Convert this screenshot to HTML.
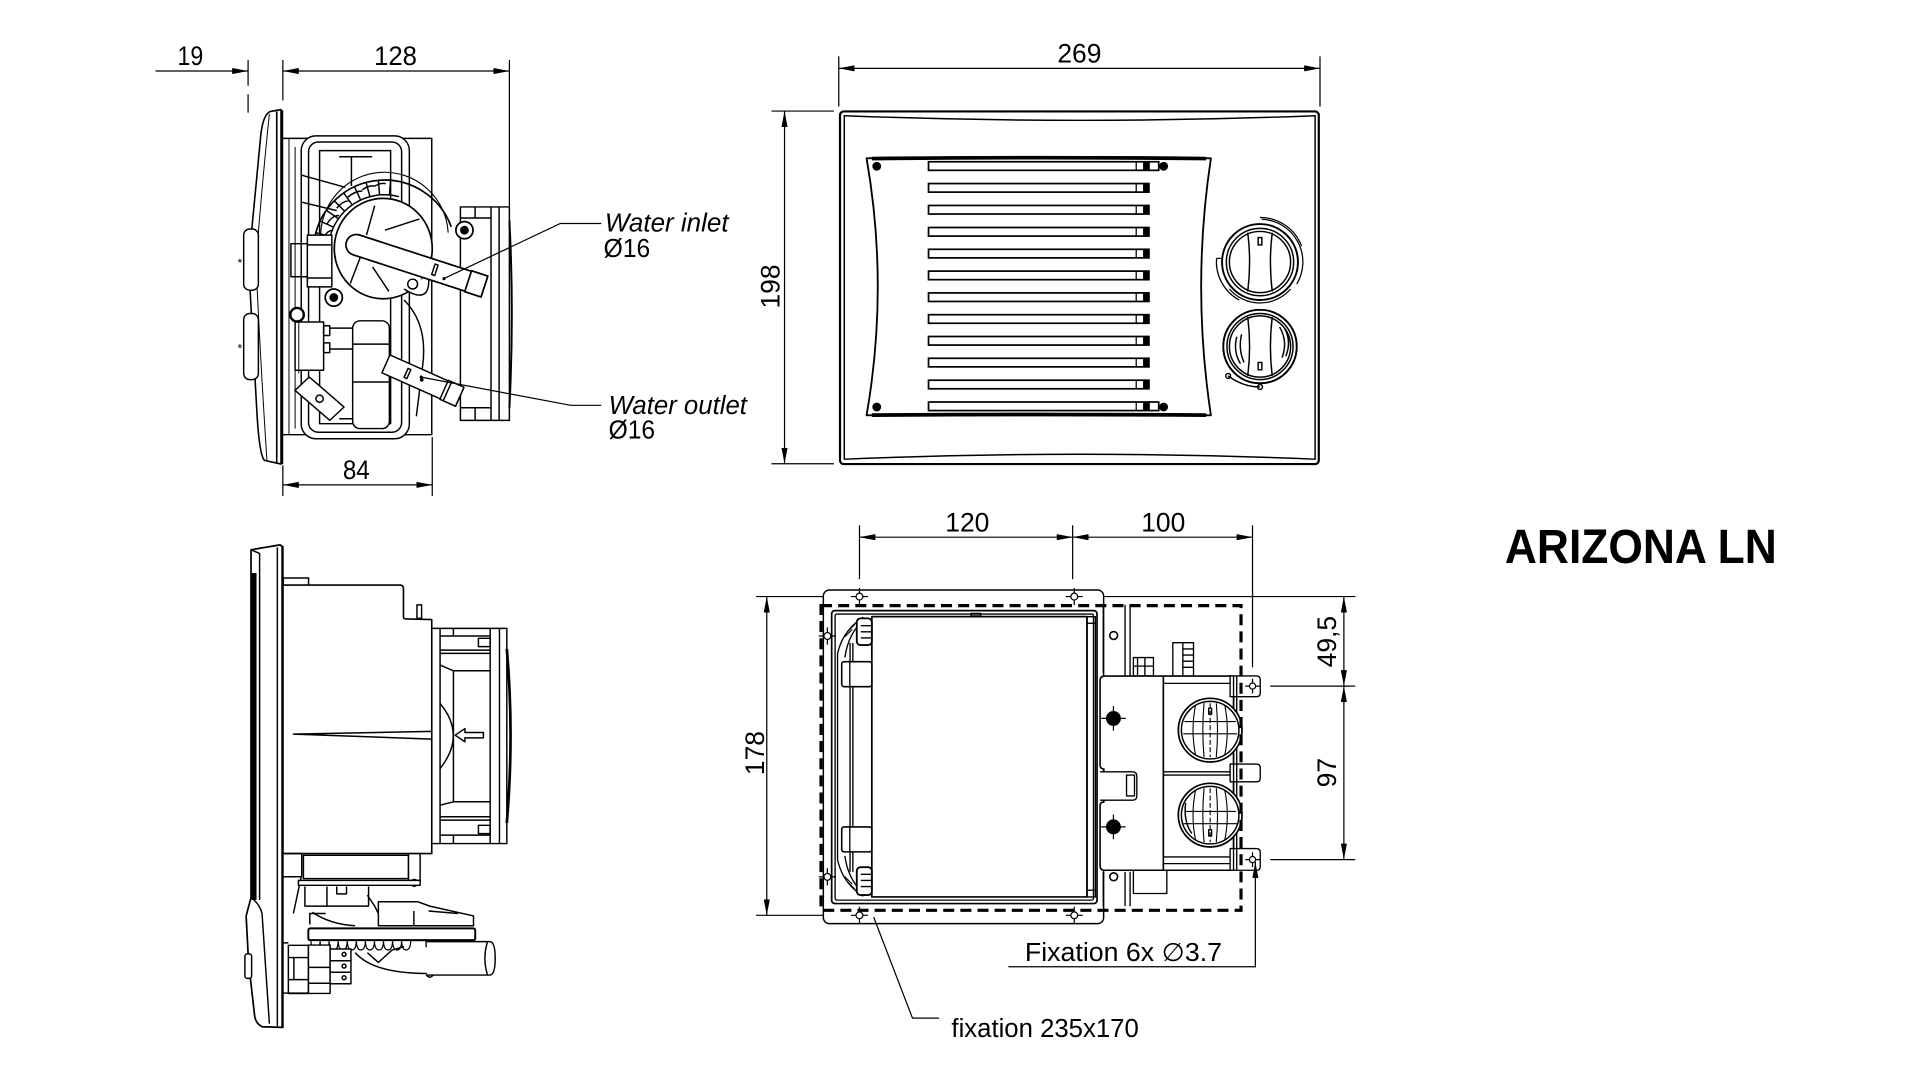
<!DOCTYPE html>
<html><head><meta charset="utf-8">
<style>
html,body{margin:0;padding:0;background:#fff;width:1920px;height:1080px;overflow:hidden}
svg{display:block}
text{font-family:"Liberation Sans",Arial,sans-serif;fill:#000;stroke:none}
</style></head><body>
<svg width="1920" height="1080" viewBox="0 0 1568 882" xmlns="http://www.w3.org/2000/svg">
<defs>
<marker id="ar" viewBox="0 0 13 5" refX="13" refY="2.5" markerWidth="13" markerHeight="5" markerUnits="userSpaceOnUse" orient="auto-start-reverse"><path d="M0,0 L13,2.5 L0,5 Z" fill="#000"/></marker>
</defs>
<rect x="0" y="0" width="1568" height="882" fill="#fff"/>

<!-- ================= A: top-left side view ================= -->
<g fill="none" stroke="#000" stroke-width="1">
<line x1="127" y1="58" x2="202.6" y2="58" marker-end="url(#ar)"/>
<line x1="231" y1="58" x2="416" y2="58" marker-start="url(#ar)" marker-end="url(#ar)"/>
<line x1="202.6" y1="49" x2="202.6" y2="70"/>
<line x1="202.6" y1="77" x2="202.6" y2="92"/>
<line x1="231" y1="49" x2="231" y2="82"/>
<line x1="416" y1="49" x2="416" y2="343"/>
<line x1="231" y1="396" x2="353" y2="396" marker-start="url(#ar)" marker-end="url(#ar)"/>
<line x1="231" y1="380" x2="231" y2="405"/>
<line x1="353" y1="357" x2="353" y2="405"/>
</g>
<text x="155.5" y="53" font-size="22" text-anchor="middle" textLength="21" lengthAdjust="spacingAndGlyphs">19</text>
<text x="323" y="53" font-size="22" text-anchor="middle" textLength="35" lengthAdjust="spacingAndGlyphs">128</text>
<text x="291" y="391" font-size="22" text-anchor="middle" textLength="22" lengthAdjust="spacingAndGlyphs">84</text>

<g fill="none" stroke="#000" stroke-width="1.2" stroke-linejoin="round">
<!-- back box -->
<path d="M231,113 L352.6,113 L352.6,355 L231,355" fill="#fff"/>
<line x1="236" y1="113" x2="236" y2="355" stroke-width="0.8"/>
<line x1="241" y1="120" x2="241" y2="350" stroke-width="0.8"/>
<!-- fan housing -->
<rect x="376" y="169" width="40" height="174.3" fill="#fff"/>
<line x1="401" y1="169" x2="401" y2="343"/>
<line x1="407.6" y1="169" x2="407.6" y2="343"/>
<path d="M376,178 L401,178 M376,333 L401,333 M388,169 L388,178 M388,333 L388,343"/>
<path d="M416,180 Q420,256 416,333" stroke-width="1.6"/>
<!-- rounded frame -->
<rect x="246" y="111" width="88.3" height="247.3" rx="12" fill="#fff"/>
<rect x="252" y="116" width="76" height="237" rx="8"/>
<rect x="261" y="123" width="58" height="223"/>
<path d="M277,128 L304,128 M287,128 L287,152 M277,342 L304,342"/>
<line x1="246" y1="143" x2="282" y2="153"/>
<line x1="246" y1="165" x2="275" y2="172"/>
<!-- lower vertical piece -->
<rect x="288" y="262" width="30" height="88" rx="6" fill="#fff"/>
<path d="M288,281 L318,281 M288,312 L318,312"/>
<path d="M330,245 Q350,265 345,300 L340,340" />
<!-- ribbed band -->
<path d="M256.9,194.9 A58,58 0 0 1 368.5,185.2" stroke-width="1.4"/>
<path d="M262,195.5 A52,52 0 0 1 366,190" stroke-width="0.9"/>
<path d="M268.7,197 A46,46 0 0 1 325.9,160.6"/>
<path d="M269.6,193.1 L258,190 M272.3,185.5 L261.4,180.5 M276.3,178.6 L266.5,171.7 M281.5,172.5 L273,164 M287.6,167.3 L280.7,157.5 M294.5,163.3 L289.5,152.5 M302.1,160.6 L299,149 M310,159.2 L309,147.2 M318,159.2 L319,147.2"/>
<path d="M264,195 Q267,188 272,188 M267,183 Q271,176 277,176 M275,170 Q280,164 285,164 M284,161 Q290,156 296,156 M296,155 Q301,151 306,152 M306,152 Q311,149 315,150"/>
<!-- motor disc -->
<ellipse cx="313" cy="203" rx="40" ry="41" fill="#fff" stroke-width="1.4"/>
<path d="M306,168 L299.3,192 M314.3,188 L342.6,178.8 M294.3,210 L286,231.6 M304.3,218 L317.6,238"/>
<path d="M330,236 Q352,250 350,225" fill="#fff"/>
<circle cx="337" cy="232" r="4"/>
<!-- connector left of disc -->
<rect x="237.6" y="199" width="16.7" height="27"/>
<rect x="251" y="192" width="20" height="42.3" fill="#fff"/>
<line x1="251" y1="200" x2="271" y2="200"/>
<line x1="251" y1="227" x2="271" y2="227"/>
<!-- lower connector -->
<rect x="241" y="263" width="23.3" height="39.4" fill="#fff"/>
<rect x="264.3" y="266" width="5" height="8"/>
<rect x="264.3" y="280" width="5" height="8"/>
<path d="M269.3,268 L288,268 M269.3,285 L288,285"/>
<line x1="244" y1="262" x2="244" y2="305" stroke-width="0.8"/>
<!-- tab -->
<path d="M240.9,318.8 L252.6,307.9 L281,332.4 L269.3,343.3 Z" fill="#fff"/>
<circle cx="261" cy="325.6" r="3"/>
<!-- small circles -->
<circle cx="379.3" cy="188" r="7" fill="#fff" stroke-width="1.4"/>
<circle cx="379.3" cy="188" r="3" fill="#000"/>
<circle cx="272.6" cy="243" r="7" fill="#fff" stroke-width="1.4"/>
<circle cx="272.6" cy="243" r="3" fill="#000"/>
<circle cx="242.6" cy="257" r="5.5" fill="#fff" stroke-width="2"/>
<!-- outlet pipe -->
<g transform="translate(317,298) rotate(24)">
<rect x="-2" y="-8" width="66" height="16" fill="#fff"/>
<rect x="50" y="-8.5" width="14" height="17" fill="#fff"/>
<line x1="53" y1="-8.5" x2="53" y2="8.5"/>
<rect x="16" y="-4" width="2.5" height="8" fill="#fff"/>
<circle cx="30" cy="0" r="0.9" fill="#000"/>
</g>
<!-- inlet pipe -->
<g transform="translate(291,200) rotate(18)">
<path d="M0,-8.5 L110,-8.5 L110,8.5 L0,8.5 A8.5,8.5 0 0 1 0,-8.5 Z" fill="#fff" stroke-width="1.4"/>
<rect x="96" y="-9" width="14" height="18" fill="#fff" stroke-width="1.4"/>
<rect x="66" y="-5" width="2.6" height="9" fill="#fff"/>
</g>
<!-- front panel -->
<path d="M229.5,89.5 L221,91 Q215,93 213,110 L203,215 L210,340 Q212,372 216,376 L229.5,379 Z" fill="#fff" stroke-width="1.3"/>
<line x1="226" y1="91" x2="226" y2="378" stroke-width="1.3"/>
<line x1="230.5" y1="90" x2="230.5" y2="379" stroke-width="1.6"/>
<path d="M220,93 Q214,150 209,215 Q213,300 218,376" stroke-width="0.8"/>
<rect x="199" y="187" width="12" height="50" rx="5" fill="#fff"/>
<rect x="199" y="256" width="12" height="54" rx="5" fill="#fff"/>
</g>
<text x="194" y="218" font-size="10" fill="#aaa">*</text>
<text x="194" y="288" font-size="10" fill="#aaa">*</text>

<!-- leaders A -->
<g fill="none" stroke="#000" stroke-width="1">
<polyline points="491,182.5 457.6,182.5 362.6,227.5"/>
<polyline points="491,331 466,331 344,308"/>
</g>
<circle cx="362.6" cy="227.5" r="1.3"/>
<circle cx="344" cy="308" r="1.3"/>
<text x="494" y="189" font-size="21" font-style="italic" textLength="101" lengthAdjust="spacingAndGlyphs">Water inlet</text>
<text x="493" y="210" font-size="21" textLength="38" lengthAdjust="spacingAndGlyphs">Ø16</text>
<text x="497" y="338" font-size="21" font-style="italic" textLength="113" lengthAdjust="spacingAndGlyphs">Water outlet</text>
<text x="497" y="358" font-size="21" textLength="38" lengthAdjust="spacingAndGlyphs">Ø16</text>

<!-- ================= B: front view ================= -->
<g fill="none" stroke="#000" stroke-width="1">
<line x1="685" y1="55.8" x2="1078" y2="55.8" marker-start="url(#ar)" marker-end="url(#ar)"/>
<line x1="685" y1="46" x2="685" y2="87"/>
<line x1="1078" y1="46" x2="1078" y2="87"/>
<line x1="640.7" y1="90.7" x2="640.7" y2="378.7" marker-start="url(#ar)" marker-end="url(#ar)"/>
<line x1="630" y1="90.7" x2="681" y2="90.7"/>
<line x1="630" y1="378.7" x2="681" y2="378.7"/>
</g>
<text x="881.5" y="51" font-size="22" text-anchor="middle" textLength="36" lengthAdjust="spacingAndGlyphs">269</text>
<text transform="translate(636.5,234) rotate(-90)" font-size="22" text-anchor="middle" textLength="36" lengthAdjust="spacingAndGlyphs">198</text>

<g fill="none" stroke="#000" stroke-width="1.2" stroke-linejoin="round">
<rect x="686" y="91" width="391" height="288" rx="3" stroke-width="1.8"/>
<path d="M690,94.5 Q882,102 1074,94.5 M690,375 Q882,367 1074,375"/>
<line x1="689.5" y1="94" x2="689.5" y2="375.5"/>
<line x1="1074" y1="94" x2="1074" y2="375.5"/>
<!-- grille frame -->
<path d="M707.7,129.3 Q848,127 988.9,129.3 Q973,234 988.9,339.2 Q848,337 707.7,339.2 Q726,234 707.7,129.3 Z" stroke-width="1.5"/>
<path d="M712,129.5 Q848,128 985,129.5" stroke-width="3"/>
<path d="M712,339 Q848,338 985,339" stroke-width="3"/>
</g>
<g fill="#fff" stroke="#000" stroke-width="1.4">
<rect x="758.3" y="132.1" width="180" height="7"/>
<rect x="758.3" y="149.9" width="180" height="7"/>
<rect x="758.3" y="167.8" width="180" height="7"/>
<rect x="758.3" y="185.8" width="180" height="7"/>
<rect x="758.3" y="203.6" width="180" height="7"/>
<rect x="758.3" y="221.4" width="180" height="7"/>
<rect x="758.3" y="239.2" width="180" height="7"/>
<rect x="758.3" y="257.0" width="180" height="7"/>
<rect x="758.3" y="274.8" width="180" height="7"/>
<rect x="758.3" y="292.6" width="180" height="7"/>
<rect x="758.3" y="310.5" width="180" height="7"/>
<rect x="758.3" y="328.3" width="180" height="7"/>
<rect x="938.3" y="132.1" width="8" height="7"/>
<rect x="938.3" y="328.3" width="8" height="7"/>
</g>
<g fill="#000">
<rect x="933.5" y="132.1" width="4.8" height="7"/>
<rect x="933.5" y="149.9" width="4.8" height="7"/>
<rect x="933.5" y="167.8" width="4.8" height="7"/>
<rect x="933.5" y="185.8" width="4.8" height="7"/>
<rect x="933.5" y="203.6" width="4.8" height="7"/>
<rect x="933.5" y="221.4" width="4.8" height="7"/>
<rect x="933.5" y="239.2" width="4.8" height="7"/>
<rect x="933.5" y="257.0" width="4.8" height="7"/>
<rect x="933.5" y="274.8" width="4.8" height="7"/>
<rect x="933.5" y="292.6" width="4.8" height="7"/>
<rect x="933.5" y="310.5" width="4.8" height="7"/>
<rect x="933.5" y="328.3" width="4.8" height="7"/>
<circle cx="716" cy="135.8" r="3.6"/>
<circle cx="950.3" cy="135.8" r="3.6"/>
<circle cx="716" cy="332.4" r="3.6"/>
<circle cx="950.3" cy="332.4" r="3.6"/>
</g>
<g stroke="#000" stroke-width="1">
<path d="M927.9,132.1 V139.1 M927.9,149.9 V156.9 M927.9,167.8 V174.8 M927.9,185.8 V192.8 M927.9,203.6 V210.6 M927.9,221.4 V228.4 M927.9,239.2 V246.2 M927.9,257 V264 M927.9,274.8 V281.8 M927.9,292.6 V299.6 M927.9,310.5 V317.5 M927.9,328.3 V335.3"/>
</g>
<!-- knobs -->
<g fill="none" stroke="#000" stroke-width="1.2">
<g transform="translate(1029,214)">
<path d="M1.2,-35 A35,35 0 0 1 30,18" stroke-width="1"/>
<path d="M0,-36.5 A36.5,36.5 0 0 1 34,-13" stroke-width="1"/>
<path d="M-35.5,-3 A35.5,35.5 0 0 0 -17,31" stroke-width="1"/>
<path d="M-35.5,-3 L-32,-3" stroke-width="1"/>
<path d="M-25,22 A33,33 0 0 0 25,22" stroke-width="1"/>
<circle r="31" stroke-width="1.6"/>
<circle r="27.5" stroke-width="1.2"/>
<circle r="25"/>
<path d="M-10,-24 Q-7,0 -10,24 M10,-24 Q7,0 10,24"/>
<rect x="-1.5" y="-20" width="3" height="6"/>
</g>
<g transform="translate(1029,283)">
<circle r="30" stroke-width="1.6"/>
<circle r="27" stroke-width="1.2"/>
<circle r="25"/>
<path d="M-10,-24 Q-7,0 -10,24 M10,-24 Q7,0 10,24"/>
<rect x="-1.5" y="13" width="3" height="6"/>
<path d="M-19,-8 Q-22,4 -16,14 M-15,-10 Q-18,2 -13,13"/>
<path d="M16,-16 Q23,-4 18,9 M20,-15 Q26,-4 21,8"/>
<path d="M-26,24 Q-14,33 0,33"/>
<circle cx="-26" cy="24" r="2"/>
<circle cx="0" cy="33" r="2"/>
</g>
</g>

<!-- ================= C: bottom-left side view ================= -->
<g fill="none" stroke="#000" stroke-width="1.2" stroke-linejoin="round">
<!-- fan housing -->
<rect x="352.6" y="513.2" width="61.3" height="175.7" fill="#fff"/>
<path d="M413.9,530 Q420,600 413.9,672" stroke-width="2.2"/>
<line x1="359.4" y1="513.2" x2="359.4" y2="688.9"/>
<line x1="400.3" y1="513.2" x2="400.3" y2="688.9"/>
<line x1="407.9" y1="513.2" x2="407.9" y2="688.9"/>
<path d="M359.4,519.4 L400.3,519.4 M359.4,530.9 L400.3,530.9 M359.4,533.6 L400.3,533.6 M370.3,513.2 L370.3,519.4"/>
<rect x="390.7" y="521.3" width="9.6" height="6.8"/>
<path d="M359.4,667 L400.3,667 M359.4,669.8 L400.3,669.8 M359.4,682 L400.3,682 M370.3,682 L370.3,688.9"/>
<rect x="390.7" y="674" width="9.6" height="6.8"/>
<path d="M359.4,543.1 L370.3,547.8 L400.3,547.8 M370.3,547.8 L370.3,654.8 L400.3,654.8 M359.4,657.6 L370.3,654.8"/>
<path d="M359.4,574.5 Q381,600.4 359.4,627.6"/>
<path d="M371.7,600.4 L379.7,595 L379.7,598.2 L394.8,598.2 L394.8,602.6 L379.7,602.6 L379.7,605.8 Z" fill="#fff"/>
<!-- body -->
<rect x="231.4" y="472" width="20.6" height="6" fill="#fff"/>
<rect x="340.5" y="494" width="3.8" height="11" fill="#fff"/>
<path d="M231,477.8 L327,477.8 Q329.5,478 329.5,481 L329.5,504 Q329.5,505.5 332,505.5 L352.6,506 L352.6,697.1 L231,697.1 Z" fill="#fff" stroke-width="1.3"/>
<path d="M239.6,599.5 L352.6,597.3 L352.6,603.6 Z" fill="#fff"/>
<!-- lower heater section -->
<path d="M231,697 L246.4,697 L246.4,716 L231,716"/>
<path d="M231,716 L246,716 L239.6,746"/>
<rect x="247.8" y="698.5" width="85.8" height="19" fill="#fff"/>
<rect x="333.6" y="697.1" width="9.5" height="22" fill="#fff"/>
<circle cx="338.3" cy="721" r="2.8" fill="#fff"/>
<rect x="243.7" y="719" width="99.4" height="4" fill="#fff" stroke-width="1.2"/>
<path d="M249,724 L249,740 L301,740 L301,724 M267,724 L267,740 M275,724 L275,730 L283,730 L283,724"/>
<path d="M300,731 L306,740 L312,752" />
<path d="M309,742 L309,736.4 L341,736.4 L351,740 L386.7,748 L386.7,756 L309,756 Z" fill="#fff"/>
<path d="M338,744 L338,756 M350,744 L374,746"/>
<path d="M255,745 Q270,755 290,756"/>
<path d="M253,755 L253,746 L266,746"/>
<rect x="251.8" y="758.2" width="136.3" height="9.6" rx="1.5" fill="#fff" stroke-width="1.6"/>
<path d="M254,767.8 q0,8 3.7,8 q3.7,0 3.7,-8 q0,8 3.7,8 q3.7,0 3.7,-8 q0,8 3.7,8 q3.7,0 3.7,-8 q0,8 3.7,8 q3.7,0 3.7,-8 q0,8 3.7,8 q3.7,0 3.7,-8 q0,8 3.7,8 q3.7,0 3.7,-8 q0,8 3.7,8 q3.7,0 3.7,-8 q0,8 3.7,8 q3.7,0 3.7,-8 q0,8 3.7,8 q3.7,0 3.7,-8 q0,8 3.7,8 q3.7,0 3.7,-8 q0,8 3.7,8 q3.7,0 3.7,-8" stroke-width="1"/>
<path d="M336,768 L348,768 L348,773 L360,773 L360,768 L388,768"/>
<path d="M300,778 L309,786 L320,776 L330,773"/>
<path d="M348.6,769 L400,769 Q404.4,769 404.4,782.6 Q404.4,796.3 400,796.3 L348.6,796.3" fill="#fff"/>
<path d="M398,769.5 Q394,782.6 398,795.8"/>
<path d="M290,778 Q305,795 348.6,795"/>
<path d="M348,796 q3,4 6,0"/>
<rect x="235.5" y="772" width="16.4" height="39.4" fill="#fff"/>
<rect x="251.9" y="771.8" width="17.7" height="39.5" fill="#fff"/>
<path d="M235.5,782 L251.9,782 M235.5,800 L251.9,800 M240,782 L240,800 M251.9,790 L269.6,790 M251.9,803 L269.6,803"/>
<rect x="269.6" y="775" width="17" height="28.4" fill="#fff"/>
<path d="M269.6,784.6 L286.6,784.6 M269.6,794 L286.6,794"/>
<circle cx="281" cy="779.4" r="1.6"/>
<circle cx="281" cy="789" r="1.6"/>
<circle cx="281" cy="798.5" r="1.6"/>
<path d="M231,770 L235.5,770 M231,811 L252,811"/>
<!-- panel -->
<path d="M205,449 L228.7,445 L231,446.5 L231,839 L214,838.5 Q209,836 208,830 L203,786 L201,748 L205,733 Z" fill="#fff" stroke-width="1.4"/>
<line x1="226.5" y1="447" x2="226.5" y2="838"/>
<line x1="230.5" y1="446" x2="230.5" y2="839" stroke-width="1.6"/>
<path d="M205,449 L212,452 L212,468"/>
<line x1="212" y1="468" x2="212" y2="735"/>
<path d="M205,733 Q212,738 214,746"/>
<path d="M214,746 L220,836"/>
<rect x="200" y="779" width="5.5" height="20" rx="2" fill="#fff"/>
</g>
<rect x="205.5" y="468" width="4" height="267" fill="#000"/>

<!-- ================= D: rear view ================= -->
<g fill="none" stroke="#000" stroke-width="1">
<line x1="701.9" y1="438.7" x2="876" y2="438.7" marker-start="url(#ar)" marker-end="url(#ar)"/>
<line x1="876" y1="438.7" x2="1022.9" y2="438.7" marker-start="url(#ar)" marker-end="url(#ar)"/>
<line x1="701.9" y1="429" x2="701.9" y2="473"/>
<line x1="876" y1="429" x2="876" y2="473"/>
<line x1="1022.9" y1="429" x2="1022.9" y2="545"/>
<line x1="617.5" y1="487.2" x2="1106.9" y2="487.2"/>
<line x1="617.5" y1="747.5" x2="690" y2="747.5"/>
<line x1="626.2" y1="487.2" x2="626.2" y2="747.5" marker-start="url(#ar)" marker-end="url(#ar)"/>
<line x1="1037.3" y1="560.3" x2="1106.8" y2="560.3"/>
<line x1="1037.3" y1="702" x2="1106.8" y2="702"/>
<line x1="1097.5" y1="487.2" x2="1097.5" y2="560.3" marker-start="url(#ar)" marker-end="url(#ar)"/>
<line x1="1097.5" y1="560.3" x2="1097.5" y2="702" marker-start="url(#ar)" marker-end="url(#ar)"/>
</g>
<text x="790" y="434" font-size="22" text-anchor="middle" textLength="36" lengthAdjust="spacingAndGlyphs">120</text>
<text x="950" y="434" font-size="22" text-anchor="middle" textLength="36" lengthAdjust="spacingAndGlyphs">100</text>
<text transform="translate(624,615) rotate(-90)" font-size="22" text-anchor="middle" textLength="36" lengthAdjust="spacingAndGlyphs">178</text>
<text transform="translate(1091,524) rotate(-90)" font-size="22" text-anchor="middle" textLength="42" lengthAdjust="spacingAndGlyphs">49,5</text>
<text transform="translate(1091,631) rotate(-90)" font-size="22" text-anchor="middle" textLength="24" lengthAdjust="spacingAndGlyphs">97</text>

<g fill="none" stroke="#000" stroke-width="1.1" stroke-linejoin="round">
<!-- plate -->
<rect x="672.4" y="481.8" width="228.9" height="272.5" rx="5" fill="#fff" stroke-width="1.2"/>
<rect x="679.2" y="498.7" width="216.7" height="239.2" rx="2.5" stroke-width="1.4"/>
<rect x="682" y="501.5" width="211" height="233.6" rx="1.5"/>
<rect x="712" y="503.6" width="175.7" height="228.9" fill="#fff" stroke-width="1.4"/>
<rect x="887.7" y="503.6" width="6.8" height="228.9"/>
<line x1="887.7" y1="509" x2="894.5" y2="509"/>
<line x1="887.7" y1="727" x2="894.5" y2="727"/>
<!-- left grill -->
<path d="M705,504 Q688,515 684,534 L684,702 Q688,721 705,732"/>
<path d="M700,512 Q692,522 690,537"/>
<path d="M700,724 Q692,714 690,699"/>
<line x1="694.2" y1="525" x2="694.2" y2="712"/>
<line x1="696.5" y1="525" x2="696.5" y2="712"/>
<path d="M690,520 L696,514 M692,516 L698,510 M690,716 L696,722 M692,720 L698,726" stroke-width="0.9"/>
<rect x="687.4" y="540.4" width="24.6" height="20.4" rx="2" fill="#fff" stroke-width="1.3"/>
<line x1="694" y1="540.4" x2="694" y2="560.8"/>
<rect x="687.4" y="675.3" width="24.6" height="20.4" rx="2" fill="#fff" stroke-width="1.3"/>
<line x1="694" y1="675.3" x2="694" y2="695.7"/>
<rect x="699.7" y="505" width="12.3" height="21.8" rx="3" fill="#fff" stroke-width="1.5"/>
<path d="M703,511 L712,511 M703,516 L712,516 M703,521 L712,521"/>
<rect x="699.7" y="708.2" width="12.3" height="22.8" rx="3" fill="#fff" stroke-width="1.5"/>
<path d="M703,714 L712,714 M703,719 L712,719 M703,724 L712,724"/>
<rect x="793" y="501" width="8" height="2"/>
<!-- parts right of plate -->
<path d="M901,494 L901,550 M918.8,494 L918.8,552 M922.9,494 L922.9,552"/>
<circle cx="909.5" cy="519" r="3.2" stroke-width="1.3"/>
<rect x="925.6" y="537" width="16.4" height="15" fill="#fff"/>
<path d="M929,537 L929,552 M935,537 L935,552 M925.6,544 L942,544"/>
<rect x="957.8" y="524.9" width="16.9" height="27.2" fill="#fff"/>
<path d="M966,524.9 L966,552 M966,530 L974.7,530 M966,535 L974.7,535 M966,540 L974.7,540 M966,545 L974.7,545"/>
<path d="M901,712 L901,740 M918.8,712 L918.8,740 M922.9,712 L922.9,740"/>
<circle cx="909.5" cy="716" r="3.2" stroke-width="1.3"/>
<rect x="925.6" y="710.7" width="27.3" height="19" fill="#fff"/>
<!-- right unit box -->
<path d="M902,552.1 L950.1,552.1 L950.1,710.7 L902,710.7 Q898.4,710.7 898.4,707 L898.4,658 Q898.4,655 901.5,655 L901.5,628 Q898.4,628 898.4,625 L898.4,556 Q898.4,552.1 902,552.1 Z" fill="#fff" stroke-width="1.3"/>
<path d="M898.4,630.3 L925,630.3 Q928.4,630.3 928.4,634 L928.4,650 Q928.4,653.5 925,653.5 L898.4,653.5" fill="#fff"/>
<rect x="920" y="633" width="6.5" height="17"/>
<!-- block -->
<rect x="950.1" y="552.1" width="57.3" height="158.6" fill="#fff" stroke-width="1.3"/>
<path d="M950.1,558.1 L1007.4,558.1 M950.1,630.3 L1007.4,630.3 M950.1,633 L1007.4,633 M950.1,699.8 L1007.4,699.8 M950.1,705.3 L1007.4,705.3"/>
<!-- brackets -->
<path d="M1004.6,552 L1026,552 Q1029.2,552 1029.2,555 L1029.2,566 Q1029.2,569 1026,569 L1004.6,569 Z" fill="#fff"/>
<path d="M1004.6,624 L1026,624 Q1029.2,624 1029.2,627 L1029.2,635.5 Q1029.2,638.5 1026,638.5 L1004.6,638.5 Z" fill="#fff"/>
<path d="M1004.6,693 L1026,693 Q1029.2,693 1029.2,696 L1029.2,707.7 Q1029.2,710.7 1026,710.7 L1004.6,710.7 Z" fill="#fff"/>
<line x1="1007.4" y1="552" x2="1007.4" y2="710.7"/>
<line x1="1010" y1="552" x2="1010" y2="710.7"/>
<!-- fans -->
<g transform="translate(988.3,596.3)">
<circle r="26" fill="#fff" stroke-width="1.4"/>
<circle r="23.5" stroke-width="1.2"/>
<path d="M-12,-20 Q-16,0 -12,20 M-5,-22 Q-7,0 -5,22 M5,-22 Q7,0 5,22 M12,-20 Q16,0 12,20" stroke-width="0.9"/>
<path d="M-21,-7 L21,-7 M-22,3 L22,3" stroke-width="0.9"/>
<path d="M0,-22 L0,22" stroke-dasharray="4 2" stroke-width="0.9"/>
<rect x="-1.2" y="-18" width="2.4" height="5"/>
</g>
<g transform="translate(988.3,665.7)">
<circle r="26" fill="#fff" stroke-width="1.4"/>
<circle r="23.5" stroke-width="1.2"/>
<path d="M-12,-20 Q-16,0 -12,20 M-5,-22 Q-7,0 -5,22 M5,-22 Q7,0 5,22 M12,-20 Q16,0 12,20" stroke-width="0.9"/>
<path d="M-21,-3 L21,-3 M-22,7 L22,7" stroke-width="0.9"/>
<path d="M0,-22 L0,22" stroke-dasharray="4 2" stroke-width="0.9"/>
<rect x="-1.2" y="12" width="2.4" height="5"/>
<path d="M-20,-10 Q-22,5 -15,15" stroke-width="1.2"/>
</g>
</g>
<!-- dashed fixation rect -->
<rect x="670.5" y="494.6" width="343" height="248.8" fill="none" stroke="#000" stroke-width="2.6" stroke-dasharray="9 5"/>
<!-- fixation crosshairs -->
<g fill="#fff" stroke="#000" stroke-width="1">
<g transform="translate(701.9,487.2)"><path d="M-7,0 H7 M0,-7 V7"/><circle r="2.8"/></g>
<g transform="translate(877.3,487.2)"><path d="M-7,0 H7 M0,-7 V7"/><circle r="2.8"/></g>
<g transform="translate(701.9,747.5)"><path d="M-7,0 H7 M0,-7 V7"/><circle r="2.8"/></g>
<g transform="translate(877.3,747.5)"><path d="M-7,0 H7 M0,-7 V7"/><circle r="2.8"/></g>
<g transform="translate(675.7,519.4)"><path d="M-7,0 H7 M0,-7 V7"/><circle r="2.8"/></g>
<g transform="translate(675.7,716.1)"><path d="M-7,0 H7 M0,-7 V7"/><circle r="2.8"/></g>
<g transform="translate(1022.9,560.3)"><path d="M-6,0 H6 M0,-6 V6"/><circle r="2.5"/></g>
<g transform="translate(1022.9,702)"><path d="M-6,0 H6 M0,-6 V6"/><circle r="2.5"/></g>
</g>
<g stroke="#000" stroke-width="1">
<g transform="translate(909.3,586.7)"><path d="M-10,0 H10 M0,-10 V10"/><circle r="5.6" fill="#000"/></g>
<g transform="translate(909.3,675.3)"><path d="M-10,0 H10 M0,-10 V10"/><circle r="5.6" fill="#000"/></g>
</g>

<!-- leaders D -->
<g fill="none" stroke="#000" stroke-width="1">
<polyline points="823.5,789.5 1025.2,789.5 1025.2,704" marker-end="url(#ar)"/>
<polyline points="766.9,831.5 745.2,831.5 713.5,749"/>
</g>
<text x="837" y="785" font-size="21" textLength="161" lengthAdjust="spacingAndGlyphs">Fixation 6x  ∅3.7</text>
<text x="777" y="847" font-size="21" textLength="153" lengthAdjust="spacingAndGlyphs">fixation 235x170</text>

<!-- title -->
<text x="1229" y="459.8" font-size="39" font-weight="bold" textLength="222" lengthAdjust="spacingAndGlyphs">ARIZONA LN</text>
</svg>
</body></html>
